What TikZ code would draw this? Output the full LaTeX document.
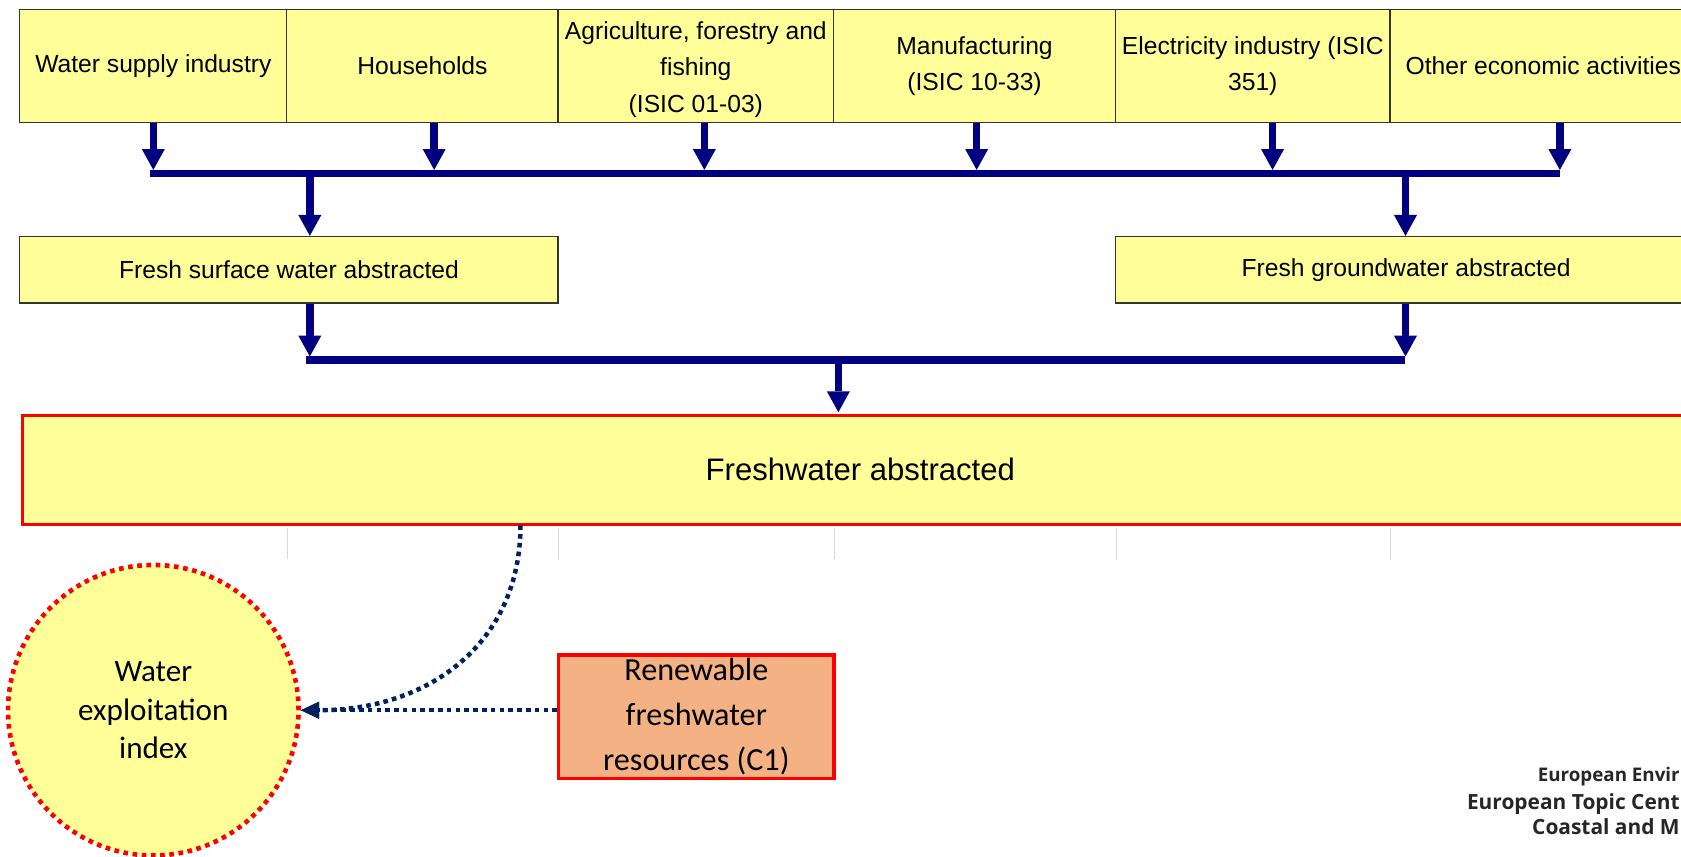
\documentclass[tikz,border=0pt]{standalone}
\usepackage{fontspec}
\setmainfont{Liberation Sans}
\newfontfamily\calib{Carlito}
\newfontfamily\opsans{Open Sans}
\usetikzlibrary{arrows.meta}
\definecolor{boxyellow}{HTML}{FFFF99}
\definecolor{salmon}{HTML}{F4B183}
\definecolor{navyflow}{HTML}{000080}
\definecolor{dotnavy}{HTML}{002060}
\definecolor{boxline}{HTML}{333333}
\definecolor{gridgrey}{HTML}{D9D9D9}
\definecolor{logogrey}{HTML}{262626}
\begin{document}
\begin{tikzpicture}[x=1pt,y=-1pt,
  topbox/.style={draw=boxline, line width=1.1pt, fill=boxyellow, inner sep=0pt,
    anchor=north west, minimum height=106pt, align=center,
    font=\fontsize{23}{34}\selectfont},
  midbox/.style={topbox, minimum height=62pt},
  flow/.style={draw=navyflow, line width=7pt,
    -{Triangle[width=21.5pt,length=19.5pt,line width=0pt]}},
  busline/.style={draw=navyflow, line width=7pt},
  dotflow/.style={draw=dotnavy, line width=4.2pt, dash pattern=on 4.3pt off 3.9pt,
    -{Triangle[width=16pt,length=17pt,line width=0pt]}},
  gridline/.style={draw=gridgrey, line width=1pt},
  logo/.style={anchor=base east, inner sep=0pt, text=logogrey}
]
\useasboundingbox (0,0) rectangle (1568,799);
\fill[white] (0,0) rectangle (1568,799);
\clip (0,0) rectangle (1568,799);

% top row
\node[topbox, minimum width=249pt] (ws) at (18,8) {Water supply industry};
\node[topbox, minimum width=253pt] (hh) at (267,8) {Households};
\node[topbox, minimum width=257pt] (agri) at (520,8) {\raisebox{-3pt}[\height][\depth]{\parbox{257pt}{\centering Agriculture, forestry and\\fishing\\(ISIC 01-03)}}};
\node[topbox, minimum width=263pt] (manuf) at (777,8) {Manufacturing\\(ISIC 10-33)};
\node[topbox, minimum width=256pt] (elec) at (1040,8) {Electricity industry (ISIC\\351)};
\node[topbox, minimum width=286pt] (other) at (1296,8) {Other economic activities};

% second row
\node[midbox, minimum width=502pt] (fs) at (18,220) {Fresh surface water abstracted};
\node[midbox, minimum width=542pt] (gw) at (1040,220) {Fresh groundwater abstracted};

% freshwater abstracted
\node[draw=red, line width=3pt, fill=boxyellow, inner sep=0pt, anchor=north west,
  minimum width=1563pt, minimum height=101.5pt,
  font=\fontsize{29}{34}\selectfont] (fa) at (19.5,386) {Freshwater abstracted};

% grid lines under the table
\foreach \n in {ws,hh,agri,manuf,elec}
  \draw[gridline] (\n.east |- fa.south) ++(0,2) -- ++(0,29);

% circle
\node[circle, draw=red, line width=4.3pt, dash pattern=on 4.3pt off 4.3pt,
  fill=boxyellow, minimum size=271pt, inner sep=0pt, align=center,
  font=\calib\fontsize{29}{36}\selectfont] (wei) at (143,662.5)
  {Water\\exploitation\\index};

% renewable
\node[draw=red, line width=3pt, fill=salmon, inner sep=0pt, anchor=north west,
  minimum width=257pt, minimum height=115pt, align=center,
  font=\calib\fontsize{30}{42}\selectfont] (rn) at (519.5,609.5)
  {Renewable\\freshwater\\resources (C1)};

% junctions on bus 1
\coordinate (j1) at (143,162);
\coordinate (j2) at (405,162);
\coordinate (j3) at (657,162);
\coordinate (j4) at (911,162);
\coordinate (j5) at (1187,162);
\coordinate (j6) at (1455,162);
\coordinate (d1) at (289,162);
\coordinate (d2) at (1311,162);

\draw[busline] ([xshift=-3.5pt]j1) -- (j6);
\draw[flow, shorten >=3.5pt] (ws.south -| j1) -- (j1);
\draw[flow, shorten >=3.5pt] (hh.south -| j2) -- (j2);
\draw[flow, shorten >=3.5pt] (agri.south -| j3) -- (j3);
\draw[flow, shorten >=3.5pt] (manuf.south -| j4) -- (j4);
\draw[flow, shorten >=3.5pt] (elec.south -| j5) -- (j5);
\draw[flow, shorten >=3.5pt] (other.south -| j6) -- (j6);
\draw[flow] (d1) -- (fs.north -| d1);
\draw[flow] (d2) -- (gw.north -| d2);

% bus 2
\coordinate (e1) at (289,336);
\coordinate (e2) at (1311,336);
\coordinate (e3) at (782,336);
\draw[busline] ([xshift=-3.5pt]e1) -- (e2);
\draw[flow, shorten >=3.5pt] (fs.south -| e1) -- (e1);
\draw[flow, shorten >=3.5pt] (gw.south -| e2) -- (e2);
\draw[flow, shorten >=1.5pt] (e3) -- (fa.north -| e3);

% dotted connectors
\coordinate (c0) at (485.5,490);
\draw[dotflow] (c0) .. controls (485.5,600) and (400,662.5) .. (wei.east);
\draw[dotflow] (wei.east -| rn.west) -- (wei.east);

% logo text
\node[logo, font=\opsans\bfseries\fontsize{17.5}{20}\selectfont] (l1) at (1567,729.2) {European Envir};
\node[logo, font=\opsans\bfseries\fontsize{19.5}{24}\selectfont] (l2) at (1567,755.5) {European Topic Cent};
\node[logo, font=\opsans\bfseries\fontsize{19.5}{24}\selectfont] (l3) at (1567,778.3) {Coastal and M};
\end{tikzpicture}
\end{document}
